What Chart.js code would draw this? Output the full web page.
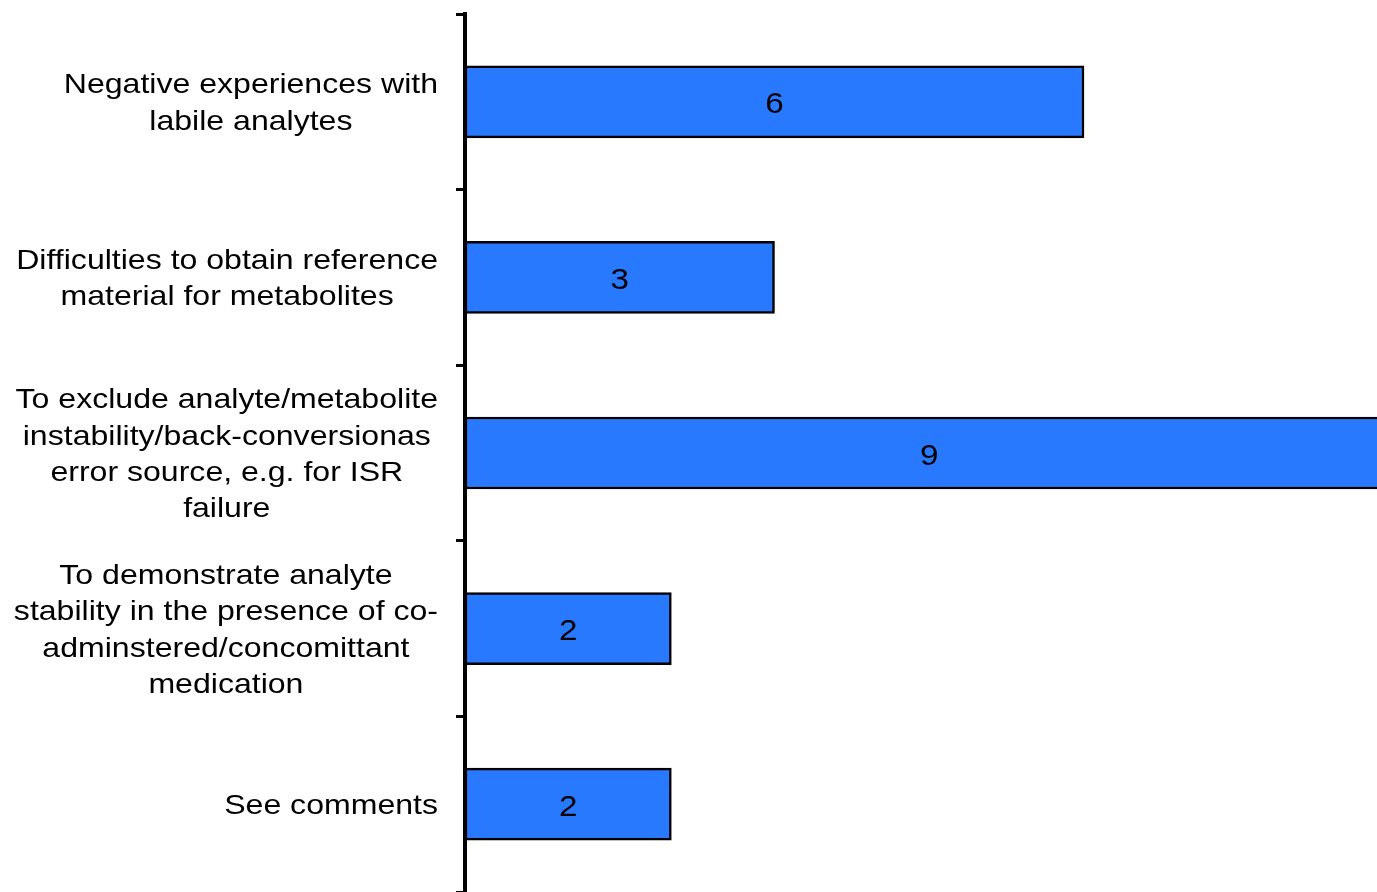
<!DOCTYPE html>
<html>
<head>
<meta charset="utf-8">
<script src="https://cdn.jsdelivr.net/npm/chart.js@4/dist/chart.umd.min.js"></script>
<style>
  html, body { margin: 0; padding: 0; background: #fff; }
  #wrap { width: 1377px; height: 892px; position: relative; }
</style>
</head>
<body>
<div id="wrap"><canvas id="c" width="1377" height="892"></canvas></div>
<script>
// ---- data ----
const categories = [
  ["Negative experiences with", "labile analytes"],
  ["Difficulties to obtain reference", "material for metabolites"],
  ["To exclude analyte/metabolite", "instability/back-conversionas", "error source, e.g. for ISR", "failure"],
  ["To demonstrate analyte", "stability in the presence of co-", "adminstered/concomittant", "medication"],
  ["See comments"]
];
const counts = [6, 3, 9, 2, 2];
const xMin = 0;
const xMax = 8.84;

// ---- styles ----
const FONT_FAMILY = '"Liberation Sans", Arial, Helvetica, sans-serif';
const LABEL_SIZE = 28.5;
const VALUE_SIZE = 29.5;
const SX = 1.125;        // horizontal stretch of text seen in reference
const LINE_H = 36.4;

const textPlugin = {
  id: 'textPlugin',
  afterDraw(chart) {
    const ctx = chart.ctx;
    const ys = chart.scales.y;
    ctx.save();
    ctx.fillStyle = '#000';
    ctx.textAlign = 'center';
    ctx.textBaseline = 'alphabetic';
    // category labels: block right-aligned, lines centered within block
    ctx.font = LABEL_SIZE + 'px ' + FONT_FAMILY;
    const rightEdge = ys.right - 27;
    const capHalf = LABEL_SIZE * 0.716 / 2;
    categories.forEach((lines, i) => {
      const cy = ys.getPixelForValue(i) - 0.5;
      const widest = Math.max(...lines.map(l => ctx.measureText(l).width * SX));
      const cx = rightEdge - widest / 2;
      lines.forEach((l, j) => {
        const by = cy + (j - (lines.length - 1) / 2) * LINE_H + capHalf;
        ctx.save();
        ctx.translate(cx, by);
        ctx.scale(SX, 1);
        ctx.fillText(l, 0, 0);
        ctx.restore();
      });
    });
    // value labels centered on the bars
    ctx.font = VALUE_SIZE + 'px ' + FONT_FAMILY;
    const meta = chart.getDatasetMeta(0);
    const vHalf = VALUE_SIZE * 0.716 / 2;
    meta.data.forEach((bar, i) => {
      const cx = (bar.x + bar.base) / 2;
      ctx.save();
      ctx.translate(cx, bar.y + vHalf + 1);
      ctx.scale(SX, 1);
      ctx.fillText(String(counts[i]), 0, 0);
      ctx.restore();
    });
    ctx.restore();
  }
};

new Chart(document.getElementById('c'), {
  type: 'bar',
  data: {
    labels: categories.map(l => l.join(' ')),
    datasets: [{
      data: counts,
      backgroundColor: '#2979FF',
      borderColor: '#000000',
      borderWidth: 2.5,
      borderSkipped: false,
      barThickness: 72
    }]
  },
  options: {
    indexAxis: 'y',
    responsive: false,
    animation: false,
    devicePixelRatio: 1,
    layout: { padding: { top: 14, bottom: 0, left: 0, right: 0 } },
    plugins: { legend: { display: false }, tooltip: { enabled: false } },
    scales: {
      x: { display: false, min: xMin, max: xMax },
      y: {
        afterFit(scale) { scale.width = 465; },
        ticks: { display: false },
        grid: {
          offset: true,
          drawOnChartArea: false,
          drawTicks: true,
          tickLength: 9,
          lineWidth: 3,
          color: '#000'
        },
        border: { display: true, color: '#000', width: 4 }
      }
    }
  },
  plugins: [textPlugin]
});
</script>
</body>
</html>
